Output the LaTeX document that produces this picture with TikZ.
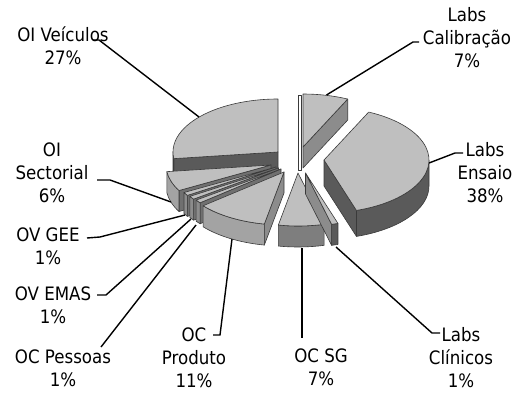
\documentclass[tikz,border=0pt]{standalone}
\usepackage{fontspec}
\newfontfamily\labelfont{DejaVu Sans Condensed}
\usetikzlibrary{calc}
\definecolor{edgegray}{HTML}{3A3A3A}
\definecolor{pietop}{HTML}{BFBFBF}
\definecolor{darkside}{HTML}{5A5A5A}
\definecolor{midside}{HTML}{8C8C8C}
\definecolor{sgside}{HTML}{7E7E7E}
\definecolor{lightside}{HTML}{A3A3A3}
\definecolor{thinside}{HTML}{707070}

% top face of an exploded slice: apex, start angle, end angle, colour
\newcommand{\PieTop}[4]{\path[face,fill=#4] (#1) -- ++(#2:105pt and 53pt)
  arc[start angle=#2,end angle=#3,x radius=105pt,y radius=53pt] -- cycle;}
% outer curved wall: apex, start angle, end angle, depth, colour
\newcommand{\PieRim}[5]{\path[face,fill=#5] (#1) ++(#2:105pt and 53pt)
  arc[start angle=#2,end angle=#3,x radius=105pt,y radius=53pt] -- ++(0,-#4)
  arc[start angle=#3,end angle=#2,x radius=105pt,y radius=53pt] -- cycle;}
% radial cut wall: apex, angle, depth, colour
\newcommand{\PieCut}[4]{\path[face,fill=#4] (#1) -- ++(#2:105pt and 53pt)
  -- ++(0,-#3) -- ++(#2+180:105pt and 53pt) -- cycle;}

\begin{document}
\begin{tikzpicture}[x=1pt,y=1pt,
  face/.style={draw=edgegray,line width=0.6pt,line join=round},
  leader/.style={draw=black,line width=1.4pt,line join=miter},
  lbl/.style={font=\labelfont\fontsize{18.5}{23}\selectfont,align=center,
    anchor=north,inner sep=0pt,text=black}]
\useasboundingbox (0,0) rectangle (522,392);

% slice apexes
\coordinate (vei) at (278,240);
\coordinate (cal) at (303,245);
\coordinate (ens) at (324,232);
\coordinate (cli) at (305.5,219);
\coordinate (sg)  at (298,219);
\coordinate (pro) at (284,220);
\coordinate (pes) at (281,223);
\coordinate (ema) at (278.5,224);
\coordinate (gee) at (276,225);
\coordinate (sec) at (271,227);

% OI Veiculos
\PieCut{vei}{-172.8}{21}{darkside}
\PieRim{vei}{-172.8}{-180}{21}{lightside}
\PieTop{vei}{-172.8}{-270}{pietop}
% Labs Calibracao
\PieCut{cal}{64.8}{21}{midside}
\PieTop{cal}{90}{64.8}{pietop}
\path[face,fill=white] (298,222) rectangle (301,297);
% Labs Ensaio
\PieCut{ens}{-72}{26}{darkside}
\PieRim{ens}{0}{-72}{26}{darkside}
\PieTop{ens}{64.8}{-72}{pietop}
% OI Sectorial
\PieCut{sec}{-151.2}{21}{thinside}
\PieRim{sec}{-151.2}{-172.8}{21}{lightside}
\PieTop{sec}{-151.2}{-172.8}{pietop}
% OV GEE
\PieCut{gee}{-147.6}{21}{thinside}
\PieRim{gee}{-147.6}{-151.2}{21}{midside}
\PieTop{gee}{-147.6}{-151.2}{pietop}
% OV EMAS
\PieCut{ema}{-144}{21}{thinside}
\PieRim{ema}{-144}{-147.6}{21}{midside}
\PieTop{ema}{-144}{-147.6}{pietop}
% OC Pessoas
\PieCut{pes}{-140.4}{21}{thinside}
\PieRim{pes}{-140.4}{-144}{21}{midside}
\PieTop{pes}{-140.4}{-144}{pietop}
% OC Produto
\PieCut{pro}{-100.8}{21}{midside}
\PieRim{pro}{-100.8}{-140.4}{21}{lightside}
\PieTop{pro}{-100.8}{-140.4}{pietop}
% OC SG
\PieRim{sg}{-75.6}{-100.8}{21}{sgside}
\PieTop{sg}{-75.6}{-100.8}{pietop}
% Labs Clinicos
\PieCut{cli}{-75.6}{21}{midside}
\PieRim{cli}{-72}{-75.6}{21}{darkside}
\PieTop{cli}{-72}{-75.6}{pietop}

% labels
\node[lbl] (lvei) at (63,365)  {OI Veículos\\27\%};
\node[lbl] (lcal) at (467,385) {Labs\\Calibração\\7\%};
\node[lbl] (lens) at (485,250) {Labs\\Ensaio\\38\%};
\node[lbl] (lcli) at (461,65)  {Labs\\Clínicos\\1\%};
\node[lbl] (lsg)  at (321,43)  {OC SG\\7\%};
\node[lbl] (lpro) at (194,64)  {OC\\Produto\\11\%};
\node[lbl] (lpes) at (63,42)   {OC Pessoas\\1\%};
\node[lbl] (lema) at (53,105)  {OV EMAS\\1\%};
\node[lbl] (lgee) at (48,164)  {OV GEE\\1\%};
\node[lbl] (lsec) at (52,249)  {OI\\Sectorial\\6\%};

% leader lines: point on slice, bend, end at label
\coordinate (veiA) at (199,275); \coordinate (veiB) at (99,352);  \coordinate (veiC) at (93,352);
\coordinate (calA) at (326.5,297); \coordinate (calB) at (413,350); \coordinate (calC) at (419,350);
\coordinate (ensA) at (429,229); \coordinate (ensB) at (455,239); \coordinate (ensC) at (463,239);
\coordinate (cliA) at (336,145); \coordinate (cliB) at (432,59);  \coordinate (cliC) at (440,59);
\coordinate (sgA)  at (302,144); \coordinate (sgB)  at (302,54);
\coordinate (proA) at (232,153); \coordinate (proB) at (220,57);  \coordinate (proC) at (213,57);
\coordinate (pesA) at (196,167); \coordinate (pesB) at (101,45);
\coordinate (emaA) at (191,173); \coordinate (emaB) at (106,97);  \coordinate (emaC) at (97,97);
\coordinate (geeA) at (185,177); \coordinate (geeB) at (100,155); \coordinate (geeC) at (87,154);
\coordinate (secA) at (171,190); \coordinate (secB) at (110,212); \coordinate (secC) at (97,212);

\draw[leader] (veiA) -- (veiB) -- (veiC);
\draw[leader] (calA) -- (calB) -- (calC);
\draw[leader] (ensA) -- (ensB) -- (ensC);
\draw[leader] (cliA) -- (cliB) -- (cliC);
\draw[leader] (sgA) -- (sgB);
\draw[leader] (proA) -- (proB) -- (proC);
\draw[leader] (pesA) -- (pesB);
\draw[leader] (emaA) -- (emaB) -- (emaC);
\draw[leader] (geeA) -- (geeB) -- (geeC);
\draw[leader] (secA) -- (secB) -- (secC);
\end{tikzpicture}
\end{document}
